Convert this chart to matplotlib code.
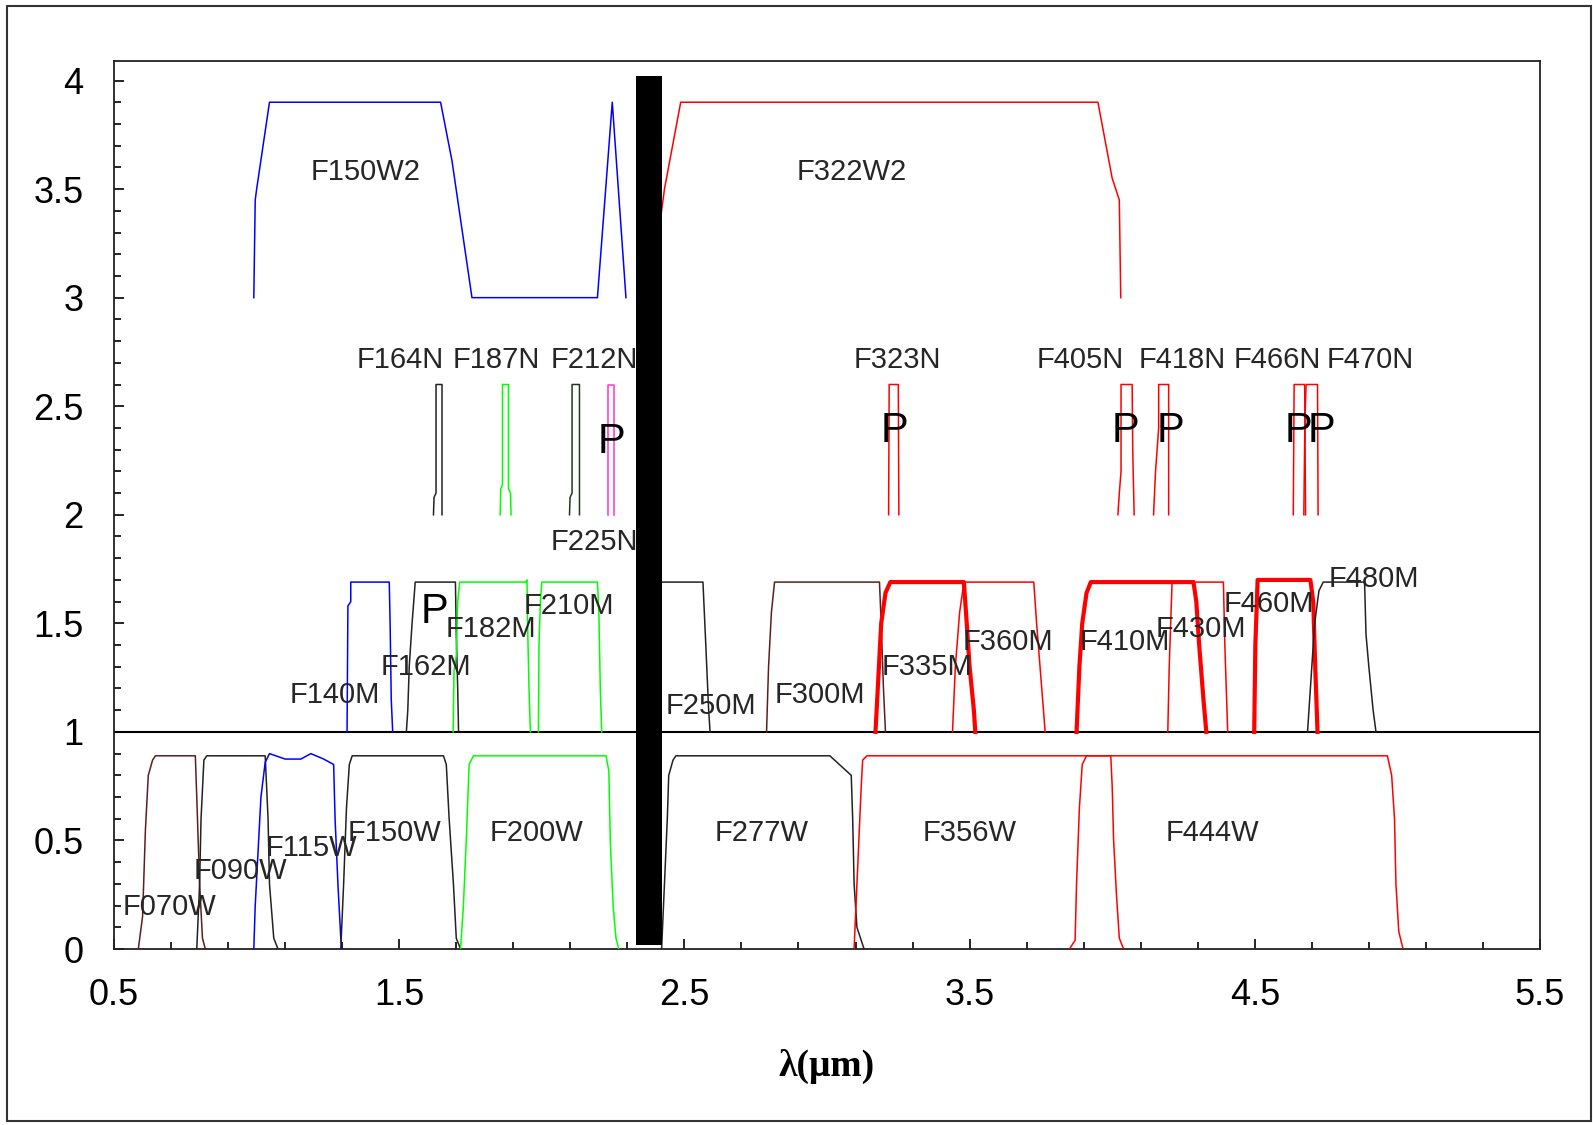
import matplotlib
matplotlib.use('agg')
import matplotlib.pyplot as plt
from matplotlib.ticker import FixedLocator, MultipleLocator, FormatStrFormatter
from matplotlib.patches import Rectangle

plt.rcParams['font.family'] = ['Liberation Sans', 'DejaVu Sans']

# --- wide filters (0 .. ~0.9) ---
wide_names = ['F070W', 'F090W', 'F115W', 'F150W', 'F200W', 'F277W', 'F356W', 'F444W']
wide_x = [
    [0.585, 0.60, 0.61, 0.62, 0.635, 0.645, 0.785, 0.79, 0.80, 0.81, 0.82],
    [0.79, 0.80, 0.805, 0.815, 0.825, 1.03, 1.04, 1.045, 1.06, 1.075],
    [0.99, 0.995, 1.005, 1.015, 1.03, 1.045, 1.10, 1.155, 1.19, 1.235, 1.27, 1.275, 1.285, 1.295, 1.30],
    [1.295, 1.305, 1.315, 1.325, 1.335, 1.655, 1.665, 1.675, 1.69, 1.70, 1.715],
    [1.715, 1.725, 1.735, 1.745, 1.76, 2.225, 2.235, 2.24, 2.25, 2.26, 2.27],
    [2.42, 2.43, 2.44, 2.445, 2.46, 2.47, 3.01, 3.085, 3.09, 3.095, 3.105, 3.13],
    [3.095, 3.10, 3.11, 3.12, 3.125, 3.14, 3.995, 4.0, 4.005, 4.015, 4.025, 4.04],
    [3.85, 3.87, 3.875, 3.885, 3.895, 3.91, 4.965, 4.98, 4.99, 4.995, 5.005, 5.02],
]
wide_y = [
    [0.0, 0.15, 0.55, 0.80, 0.87, 0.89, 0.89, 0.70, 0.30, 0.05, 0.0],
    [0.0, 0.30, 0.60, 0.87, 0.89, 0.89, 0.60, 0.30, 0.05, 0.0],
    [0.0, 0.20, 0.45, 0.70, 0.86, 0.90, 0.875, 0.875, 0.90, 0.875, 0.85, 0.60, 0.30, 0.05, 0.0],
    [0.0, 0.30, 0.65, 0.85, 0.89, 0.89, 0.85, 0.60, 0.30, 0.05, 0.0],
    [0.0, 0.20, 0.50, 0.85, 0.89, 0.89, 0.82, 0.50, 0.20, 0.05, 0.0],
    [0.0, 0.30, 0.60, 0.80, 0.87, 0.89, 0.89, 0.80, 0.60, 0.30, 0.10, 0.0],
    [0.0, 0.15, 0.45, 0.75, 0.87, 0.89, 0.89, 0.75, 0.50, 0.25, 0.05, 0.0],
    [0.0, 0.04, 0.30, 0.65, 0.85, 0.89, 0.89, 0.80, 0.60, 0.30, 0.08, 0.0],
]
wide_colors = ['#5c1f1f', '#222222', '#0000ff', '#222222', '#00ff00', '#222222', '#ff0000', '#ff0000']
wide_label_x = [0.696, 0.942, 1.192, 1.484, 1.98, 2.772, 3.499, 4.352]
wide_label_y = [0.192, 0.36, 0.464, 0.534, 0.534, 0.534, 0.534, 0.534]

# --- medium filters (1 .. 1.7) ---
med_names = ['F140M', 'F162M', 'F182M', 'F210M', 'F250M', 'F300M', 'F335M',
             'F360M', 'F410M', 'F430M', 'F460M', 'F480M']
med_x = [
    [1.317, 1.32, 1.33, 1.33, 1.465, 1.468, 1.472, 1.477],
    [1.525, 1.53, 1.535, 1.545, 1.552, 1.556, 1.697, 1.70, 1.705, 1.708],
    [1.689, 1.692, 1.70, 1.705, 1.712, 1.943, 1.948, 1.95, 1.955, 1.96],
    [1.988, 1.99, 1.995, 2.0, 2.195, 2.20, 2.205, 2.21],
    [2.40, 2.41, 2.565, 2.575, 2.585, 2.59],
    [2.788, 2.795, 2.805, 2.816, 3.184, 3.19, 3.198, 3.205],
    [3.17, 3.18, 3.19, 3.205, 3.222, 3.48, 3.49, 3.50, 3.515, 3.52],
    [3.44, 3.45, 3.465, 3.48, 3.725, 3.735, 3.75, 3.765],
    [3.875, 3.885, 3.895, 3.91, 3.925, 4.285, 4.295, 4.305, 4.32, 4.33],
    [4.195, 4.20, 4.21, 4.39, 4.395, 4.405],
    [4.498, 4.502, 4.51, 4.695, 4.705, 4.712, 4.72],
    [4.685, 4.695, 4.71, 4.725, 4.74, 4.885, 4.89, 4.90, 4.915, 4.925],
]
med_y = [
    [1.0, 1.58, 1.60, 1.69, 1.69, 1.50, 1.15, 1.0],
    [1.0, 1.10, 1.30, 1.50, 1.62, 1.69, 1.69, 1.45, 1.20, 1.0],
    [1.0, 1.28, 1.35, 1.60, 1.69, 1.69, 1.70, 1.50, 1.20, 1.0],
    [1.0, 1.40, 1.60, 1.69, 1.69, 1.55, 1.20, 1.0],
    [1.0, 1.69, 1.69, 1.40, 1.10, 1.0],
    [1.0, 1.30, 1.55, 1.69, 1.69, 1.50, 1.20, 1.0],
    [1.0, 1.25, 1.50, 1.64, 1.69, 1.69, 1.50, 1.30, 1.10, 1.0],
    [1.0, 1.30, 1.55, 1.69, 1.69, 1.50, 1.25, 1.0],
    [1.0, 1.30, 1.50, 1.64, 1.69, 1.69, 1.60, 1.40, 1.15, 1.0],
    [1.0, 1.30, 1.69, 1.69, 1.40, 1.0],
    [1.0, 1.40, 1.70, 1.70, 1.60, 1.30, 1.0],
    [1.0, 1.20, 1.50, 1.65, 1.69, 1.69, 1.45, 1.30, 1.10, 1.0],
]
med_colors = ['#0000ff', '#222222', '#00ff00', '#00ff00', '#222222', '#5c1f1f', '#ff0000',
              '#ff0000', '#ff0000', '#ff0000', '#ff0000', '#222222']
med_widths = [1.1, 1.1, 1.1, 1.1, 1.1, 1.1, 3.0, 1.1, 3.0, 1.1, 3.0, 1.1]
med_label_x = [1.274, 1.595, 1.82, 2.094, 2.593, 2.975, 3.35, 3.635, 4.045, 4.312, 4.548, 4.919]
med_label_y = [1.171, 1.297, 1.475, 1.578, 1.119, 1.171, 1.297, 1.414, 1.414, 1.475, 1.588, 1.705]

# --- narrow filters (2 .. 2.6) ---
nar_names = ['F164N', 'F187N', 'F212N', 'F225N', 'F323N', 'F405N', 'F418N', 'F466N', 'F470N']
nar_x = [
    [1.620, 1.622, 1.629, 1.629, 1.650, 1.650],
    [1.854, 1.856, 1.862, 1.862, 1.883, 1.883, 1.890, 1.892],
    [2.097, 2.099, 2.106, 2.106, 2.132, 2.132],
    [2.233, 2.233, 2.252, 2.252],
    [3.216, 3.218, 3.250, 3.252],
    [4.020, 4.025, 4.031, 4.031, 4.070, 4.072, 4.077],
    [4.145, 4.152, 4.163, 4.163, 4.198, 4.198],
    [4.635, 4.638, 4.675, 4.678],
    [4.672, 4.676, 4.680, 4.720, 4.722],
]
nar_y = [
    [2.0, 2.08, 2.10, 2.6, 2.6, 2.0],
    [2.0, 2.12, 2.14, 2.6, 2.6, 2.12, 2.10, 2.0],
    [2.0, 2.08, 2.10, 2.6, 2.6, 2.0],
    [2.0, 2.6, 2.6, 2.0],
    [2.0, 2.6, 2.6, 2.0],
    [2.0, 2.10, 2.20, 2.6, 2.6, 2.30, 2.0],
    [2.0, 2.20, 2.40, 2.6, 2.6, 2.0],
    [2.0, 2.6, 2.6, 2.0],
    [2.0, 2.45, 2.6, 2.6, 2.0],
]
nar_colors = ['#222222', '#00ff00', '#1f3a1f', '#ff33cc', '#ff0000', '#ff0000', '#ff0000', '#ff0000', '#ff0000']
nar_label_x = [1.505, 1.841, 2.183, 2.183, 3.246, 3.888, 4.245, 4.58, 4.904]
nar_label_y = [2.712, 2.712, 2.712, 1.873, 2.712, 2.712, 2.712, 2.712, 2.712]

# --- extra-wide filters (3 .. 3.9) ---
w2_names = ['F150W2', 'F322W2']
w2_x = [
    [0.99, 0.995, 1.0, 1.045, 1.645, 1.685, 1.755, 2.195, 2.247, 2.295],
    [2.40, 2.41, 2.43, 2.487, 3.95, 4.0, 4.025, 4.03],
]
w2_y = [
    [3.0, 3.45, 3.50, 3.9, 3.9, 3.63, 3.0, 3.0, 3.9, 3.0],
    [3.0, 3.30, 3.50, 3.9, 3.9, 3.55, 3.45, 3.0],
]
w2_colors = ['#0000ff', '#ff0000']
w2_label_x = [1.381, 3.086]
w2_label_y = [3.578, 3.578]

# "P" marks
p_x = [1.625, 2.246, 3.235, 4.045, 4.205, 4.655, 4.733]
p_y = [1.553, 2.334, 2.384, 2.384, 2.384, 2.384, 2.384]

# dichroic bar
bar_x = 2.376
bar_bottom = 0.02
bar_top = 4.02

fig = plt.figure(figsize=(15.93, 11.25), dpi=100)
ax = fig.add_axes([0.0716, 0.1564, 0.8951, 0.7894])

lab_kw = dict(fontsize=21, color='#262626', ha='center', va='center', zorder=4)

for xs, ys, c in zip(wide_x, wide_y, wide_colors):
    ax.plot(xs, ys, color=c, lw=1.1, zorder=3)
for xs, ys, c, w in zip(med_x, med_y, med_colors, med_widths):
    ax.plot(xs, ys, color=c, lw=w, zorder=3)
for xs, ys, c in zip(nar_x, nar_y, nar_colors):
    ax.plot(xs, ys, color=c, lw=1.1, zorder=3)
for xs, ys, c in zip(w2_x, w2_y, w2_colors):
    ax.plot(xs, ys, color=c, lw=1.1, zorder=3)

for names, lx, ly in [(wide_names, wide_label_x, wide_label_y),
                      (med_names, med_label_x, med_label_y),
                      (nar_names, nar_label_x, nar_label_y),
                      (w2_names, w2_label_x, w2_label_y)]:
    for n, x, y in zip(names, lx, ly):
        ax.text(x, y, n, **lab_kw)

for x, y in zip(p_x, p_y):
    ax.text(x, y, 'P', fontsize=30, color='black', ha='center', va='center', zorder=4)

ax.axhline(1.0, color='black', lw=1.5, zorder=2)
ax.bar([bar_x], [bar_top - bar_bottom], bottom=bar_bottom, width=0.092,
       color='black', zorder=10)

ax.set_xlim(0.5, 5.5)
ax.set_ylim(0, 4.09)
ax.xaxis.set_major_locator(FixedLocator([0.5, 1.5, 2.5, 3.5, 4.5, 5.5]))
ax.xaxis.set_minor_locator(MultipleLocator(0.2, offset=0.1))
ax.yaxis.set_major_locator(MultipleLocator(0.5))
ax.yaxis.set_minor_locator(MultipleLocator(0.1))
ax.yaxis.set_major_formatter(FormatStrFormatter('%g'))
ax.xaxis.set_major_formatter(FormatStrFormatter('%g'))
ax.tick_params(which='both', direction='in', top=False, right=False, width=1.2,
               labelsize=26, colors='black')
ax.tick_params(axis='x', which='major', length=7.5, pad=21)
ax.tick_params(axis='y', which='major', length=7.5, pad=22)
ax.tick_params(which='minor', length=5)
for s in ax.spines.values():
    s.set_linewidth(1.3)
    s.set_color('#222222')

ax.set_xlabel('λ(μm)', fontsize=27, fontweight='bold', family=['Liberation Serif', 'DejaVu Serif'])
ax.xaxis.set_label_coords(0.5, -0.112)

fig.patches.append(Rectangle((0.0044, 0.0036), 0.9944, 0.991, transform=fig.transFigure,
                             fill=False, edgecolor='#333333', lw=1.5))

fig.savefig('out.png', dpi=100)
